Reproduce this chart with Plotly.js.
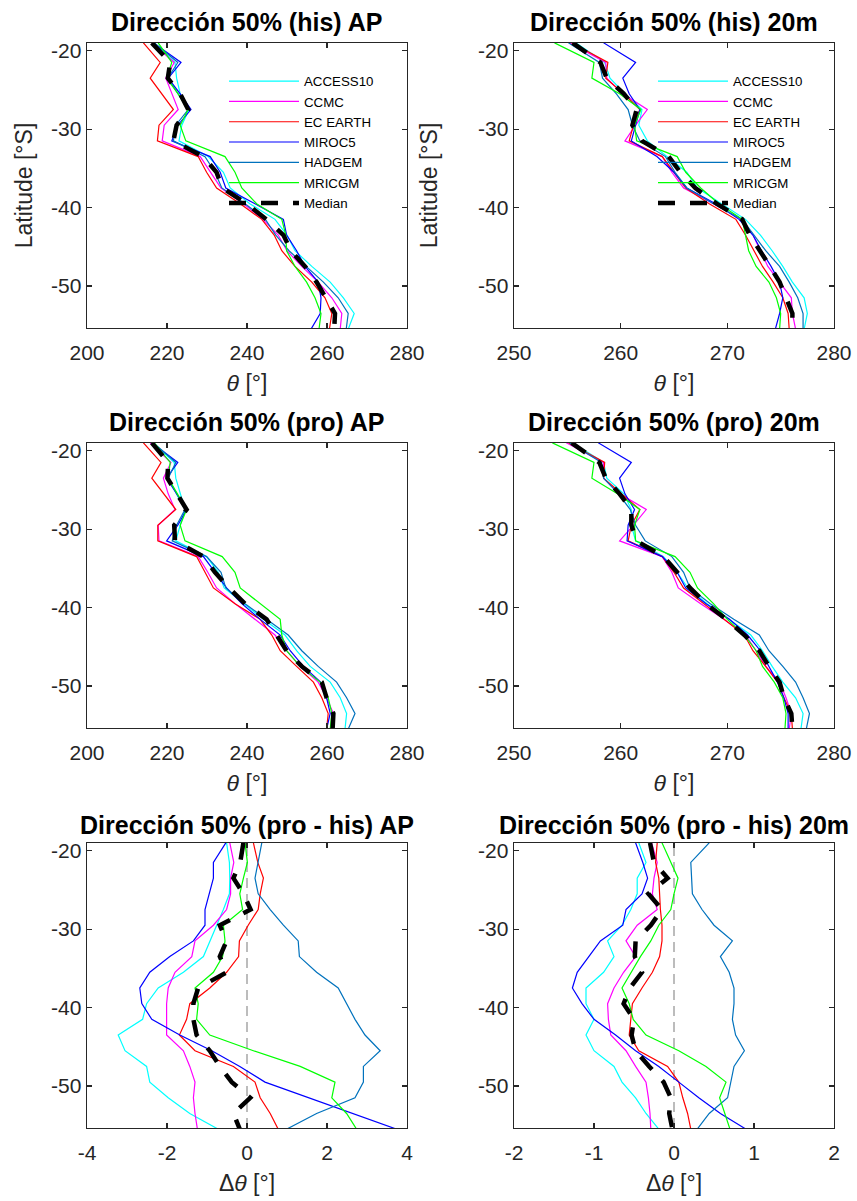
<!DOCTYPE html>
<html>
<head>
<meta charset="utf-8">
<script src="https://cdn.plot.ly/plotly-3.0.1.min.js"></script>
<style>
  html, body { margin: 0; padding: 0; background: #ffffff; }
  #chart { width: 857px; height: 1201px; }
</style>
</head>
<body>
<div id="chart"></div>
<script>
// Latitude of each profile point (degrees, south negative)
const lat = [-19, -21.5, -23.5, -25.5, -27.5, -29.5, -31.5, -33.5, -35.5, -37.5,
             -39.5, -41.5, -43.5, -45.5, -47.5, -49.5, -51.5, -53.5, -55.5];

// Series order inside every panel array below
const seriesNames = ['ACCESS10', 'CCMC', 'EC EARTH', 'MIROC5', 'HADGEM', 'MRICGM', 'Median'];

// 50% wave direction, historical period, AP (deg)
const dirHisAP = [
  [216.8, 222.0, 222.4, 223.3, 225.5, 223.7, 223.0, 230.3, 234.1, 235.8, 240.7, 247.0, 250.0, 252.0, 256.2, 260.8, 264.1, 266.8, 265.3],
  [216.2, 221.8, 219.7, 221.2, 222.8, 219.3, 218.8, 228.3, 230.8, 233.5, 239.1, 244.0, 247.8, 250.0, 253.7, 257.8, 261.2, 263.7, 263.3],
  [214.1, 218.3, 215.8, 218.7, 221.6, 218.0, 217.6, 227.8, 229.9, 232.4, 238.3, 243.7, 246.8, 248.7, 252.0, 256.2, 259.5, 261.2, 260.6],
  [216.6, 223.5, 220.3, 223.3, 226.0, 222.7, 221.2, 230.8, 233.3, 234.7, 242.0, 249.1, 249.9, 252.4, 254.5, 257.8, 258.5, 258.3, 256.0],
  [216.8, 222.7, 220.2, 222.8, 225.3, 222.2, 221.6, 229.5, 232.0, 233.7, 239.5, 244.6, 247.2, 250.5, 254.9, 259.1, 262.8, 265.3, 264.8],
  [217.8, 221.2, 219.9, 222.8, 225.3, 223.3, 224.7, 234.5, 237.0, 238.7, 242.4, 248.7, 249.7, 249.9, 252.0, 254.9, 257.0, 258.5, 258.0],
  [216.2, 220.8, 220.2, 223.3, 225.3, 222.4, 221.6, 229.1, 232.4, 233.8, 239.9, 244.8, 249.1, 251.0, 254.5, 257.4, 259.7, 262.0, 261.8]
];

// 50% wave direction, historical period, 20 m (deg)
const dirHis20m = [
  [255.8, 258.5, 259.0, 260.4, 262.0, 261.7, 262.5, 264.3, 266.2, 267.2, 269.4, 271.7, 273.1, 274.2, 275.2, 276.1, 277.2, 277.5, 277.2],
  [255.2, 258.6, 258.7, 260.2, 262.5, 261.4, 260.4, 263.9, 264.8, 265.9, 268.7, 271.3, 272.4, 273.1, 273.8, 274.9, 276.0, 276.1, 276.4],
  [255.4, 258.8, 258.6, 260.3, 261.8, 261.2, 260.8, 263.9, 265.0, 266.1, 268.3, 270.8, 271.7, 272.5, 273.3, 274.3, 275.2, 275.7, 275.8],
  [258.4, 261.4, 260.2, 260.8, 261.8, 261.4, 261.0, 263.4, 265.0, 266.2, 268.9, 271.1, 272.4, 273.2, 274.1, 274.9, 275.2, 274.9, 274.5],
  [255.1, 258.0, 258.3, 259.6, 260.7, 261.1, 261.8, 264.2, 265.1, 266.2, 268.7, 271.4, 272.5, 273.6, 274.9, 275.8, 276.6, 277.1, 277.1],
  [253.8, 257.5, 257.3, 259.9, 261.9, 261.3, 261.5, 265.3, 266.1, 267.5, 269.2, 271.4, 271.7, 272.0, 272.7, 273.9, 274.6, 275.0, 274.9],
  [255.5, 258.1, 258.7, 260.3, 261.5, 261.1, 262.0, 264.5, 265.6, 267.0, 269.0, 271.4, 272.1, 273.1, 274.0, 274.9, 275.5, 276.1, 276.1]
];

// 50% wave direction, projected period, AP (deg)
const dirProAP = [
  [216.6, 221.8, 222.2, 223.3, 224.5, 223.3, 222.2, 229.9, 232.8, 234.3, 239.1, 244.1, 249.5, 252.4, 255.8, 260.8, 263.3, 264.9, 264.5],
  [215.8, 221.0, 219.1, 220.3, 222.0, 217.8, 218.0, 227.8, 230.2, 232.4, 237.0, 242.0, 247.0, 249.9, 253.3, 257.8, 259.9, 261.6, 261.2],
  [214.1, 218.5, 216.2, 219.2, 222.2, 217.7, 217.7, 227.4, 229.5, 231.6, 237.0, 243.3, 246.2, 248.3, 252.4, 256.6, 258.7, 260.3, 259.9],
  [216.2, 222.7, 219.9, 222.4, 224.9, 222.7, 219.9, 229.1, 232.0, 234.9, 238.7, 243.3, 248.3, 250.8, 254.1, 258.4, 259.9, 260.8, 259.9],
  [216.6, 222.2, 220.3, 222.4, 224.5, 222.4, 221.3, 229.9, 233.5, 234.7, 239.5, 244.9, 250.3, 253.7, 257.8, 262.4, 264.9, 267.0, 265.3],
  [216.8, 220.8, 220.3, 222.7, 224.9, 223.3, 224.5, 233.8, 237.0, 238.3, 243.3, 248.3, 248.7, 249.9, 253.3, 258.3, 260.3, 261.2, 260.8],
  [216.2, 220.3, 220.1, 222.6, 224.9, 221.8, 222.0, 229.1, 232.0, 235.5, 239.5, 244.9, 247.4, 249.9, 253.7, 258.7, 259.9, 261.6, 261.4]
];

// 50% wave direction, projected period, 20 m (deg)
const dirPro20m = [
  [255.5, 258.4, 258.7, 260.3, 261.0, 261.0, 261.4, 264.0, 265.3, 266.3, 268.1, 270.1, 272.2, 273.3, 274.2, 275.2, 276.4, 277.1, 276.9],
  [254.9, 258.4, 258.4, 259.9, 262.4, 261.2, 259.9, 263.9, 264.8, 265.4, 267.5, 269.7, 271.7, 272.7, 273.6, 274.9, 275.5, 276.0, 275.8],
  [255.1, 258.5, 258.4, 260.1, 261.8, 261.0, 260.7, 263.9, 265.0, 265.9, 267.8, 269.8, 271.6, 272.4, 273.6, 274.7, 275.3, 276.0, 276.1],
  [257.9, 261.0, 259.9, 260.4, 261.3, 260.7, 260.6, 263.9, 265.3, 266.1, 268.0, 270.2, 271.9, 273.1, 273.9, 274.7, 275.3, 275.7, 275.7],
  [255.2, 258.2, 258.4, 259.8, 260.9, 261.4, 262.3, 264.8, 265.9, 266.5, 268.4, 270.6, 273.0, 273.9, 275.2, 276.4, 277.1, 277.7, 277.4],
  [253.6, 257.5, 257.3, 259.7, 261.8, 261.3, 261.4, 265.1, 266.5, 267.2, 268.7, 270.0, 271.6, 272.7, 273.3, 274.4, 275.2, 275.5, 275.4],
  [255.4, 258.0, 258.6, 259.9, 261.0, 261.0, 261.5, 264.0, 265.3, 266.5, 268.0, 269.9, 271.6, 273.0, 273.9, 274.9, 275.3, 276.0, 276.1]
];

// Change in 50% direction (pro - his), AP (deg)
const dDirAP = [
  [-0.51, -0.44, -0.43, -0.44, -0.59, -0.76, -0.93, -1.09, -1.59, -2.22, -2.51, -2.61, -3.22, -3.05, -2.51, -2.43, -1.97, -1.43, -0.72],
  [-0.43, -0.33, -0.41, -0.41, -0.51, -0.84, -1.30, -1.38, -1.80, -1.97, -2.01, -2.01, -2.01, -1.59, -1.43, -1.30, -1.34, -1.30, -1.24],
  [0.16, 0.27, 0.41, 0.33, 0.28, 0.03, -0.19, -0.21, -0.51, -0.93, -1.43, -1.51, -1.69, -1.30, -0.34, 0.20, 0.33, 0.58, 0.78],
  [-0.53, -0.84, -0.84, -0.94, -1.05, -1.05, -1.34, -1.93, -2.43, -2.68, -2.63, -2.38, -1.68, -0.88, -0.18, 0.45, 1.53, 2.66, 3.74],
  [0.37, 0.28, 0.20, 0.28, 0.58, 0.91, 1.28, 1.31, 1.74, 2.28, 2.49, 2.70, 2.95, 3.33, 2.91, 2.91, 2.70, 1.74, 0.99],
  [-0.05, 0.01, -0.09, -0.18, -0.11, -0.59, -0.55, -0.61, -0.84, -1.30, -1.22, -1.26, -0.93, 0.16, 1.33, 2.20, 2.12, 2.49, 2.74],
  [-0.09, -0.17, -0.34, -0.09, 0.09, -0.68, -0.51, -0.68, -0.51, -1.22, -1.34, -1.34, -1.26, -0.93, -0.68, -0.38, 0.08, -0.34, -0.18]
];

// Change in 50% direction (pro - his), 20 m (deg)
const dDir20m = [
  [-0.44, -0.35, -0.46, -0.46, -0.54, -0.65, -0.83, -0.75, -0.88, -1.10, -1.10, -1.00, -1.10, -1.00, -0.75, -0.65, -0.48, -0.35, -0.19],
  [-0.28, -0.21, -0.25, -0.27, -0.21, -0.46, -0.60, -0.48, -0.63, -0.75, -0.83, -0.82, -0.79, -0.60, -0.48, -0.35, -0.32, -0.30, -0.29],
  [-0.21, -0.23, -0.19, -0.18, -0.17, -0.15, -0.15, -0.18, -0.27, -0.40, -0.52, -0.54, -0.56, -0.44, -0.08, 0.06, 0.11, 0.17, 0.21],
  [-0.48, -0.39, -0.33, -0.40, -0.60, -0.64, -0.92, -1.06, -1.21, -1.27, -1.15, -1.00, -0.73, -0.48, -0.19, 0.06, 0.31, 0.58, 0.90],
  [0.44, 0.21, 0.22, 0.23, 0.35, 0.50, 0.73, 0.58, 0.69, 0.75, 0.75, 0.73, 0.77, 0.88, 0.75, 0.71, 0.67, 0.44, 0.29],
  [-0.15, -0.04, 0.05, 0.00, -0.04, -0.19, -0.29, -0.42, -0.54, -0.65, -0.56, -0.51, -0.35, 0.06, 0.40, 0.65, 0.57, 0.63, 0.70],
  [-0.30, -0.25, -0.08, -0.32, -0.15, -0.29, -0.48, -0.49, -0.40, -0.55, -0.63, -0.50, -0.53, -0.48, -0.31, -0.13, -0.04, -0.06, -0.02]
];

// Tick values and labels
const latTicks = [-20, -30, -40, -50];
const latTickText = ['-20', '-30', '-40', '-50'];
const thetaTicksAP = [200, 220, 240, 260, 280];
const thetaTicks20m = [250, 260, 270, 280];
const dThetaTicksAP = [-4, -2, 0, 2, 4];
const dThetaTickTextAP = ['-4', '-2', '0', '2', '4'];
const dThetaTicks20m = [-2, -1, 0, 1, 2];
const dThetaTickText20m = ['-2', '-1', '0', '1', '2'];

const panelTitles = [
  'Dirección 50% (his) AP', 'Dirección 50% (his) 20m',
  'Dirección 50% (pro) AP', 'Dirección 50% (pro) 20m',
  'Dirección 50% (pro - his) AP', 'Dirección 50% (pro - his) 20m'
];

// ---- styling / geometry ----
const FONT = 'Liberation Sans, Arial, Helvetica, sans-serif';
const INK = '#262626';
const W = 857, H = 1201;
const colors = ['#00FFFF', '#FF00FF', '#FF0000', '#0000FF', '#0072BD', '#00FF00', '#000000'];

const colDomains = [[87 / W, 407 / W], [514 / W, 834 / W]];
const rowTops = [43, 443, 843];
const rowBottoms = [328, 728, 1128];
const titleCenters = [22, 422, 825];
const latRange = [-55.35, -19.02];

const panels = [
  { data: dirHisAP,  xr: [200, 280], tv: thetaTicksAP,  tt: thetaTicksAP.map(String),  xt: '<i>θ</i> [°]',  yt: 'Latitude [°S]', ys: 12 },
  { data: dirHis20m, xr: [250, 280], tv: thetaTicks20m, tt: thetaTicks20m.map(String), xt: '<i>θ</i> [°]',  yt: 'Latitude [°S]', ys: 34 },
  { data: dirProAP,  xr: [200, 280], tv: thetaTicksAP,  tt: thetaTicksAP.map(String),  xt: '<i>θ</i> [°]',  yt: '' },
  { data: dirPro20m, xr: [250, 280], tv: thetaTicks20m, tt: thetaTicks20m.map(String), xt: '<i>θ</i> [°]',  yt: '' },
  { data: dDirAP,    xr: [-4, 4],    tv: dThetaTicksAP, tt: dThetaTickTextAP,          xt: 'Δ<i>θ</i> [°]', yt: '', zero: true },
  { data: dDir20m,   xr: [-2, 2],    tv: dThetaTicks20m, tt: dThetaTickText20m,        xt: 'Δ<i>θ</i> [°]', yt: '', zero: true }
];

const traces = [];
const annotations = [];
const shapes = [];
const layout = {
  width: W, height: H,
  margin: { l: 0, r: 0, t: 0, b: 0 },
  paper_bgcolor: '#ffffff',
  plot_bgcolor: '#ffffff',
  font: { family: FONT, color: INK },
  showlegend: true
};

panels.forEach((p, i) => {
  const n = i + 1;
  const xKey = n === 1 ? 'xaxis' : 'xaxis' + n;
  const yKey = n === 1 ? 'yaxis' : 'yaxis' + n;
  const xRef = n === 1 ? 'x' : 'x' + n;
  const yRef = n === 1 ? 'y' : 'y' + n;
  const col = i % 2, row = Math.floor(i / 2);
  const yDom = [1 - rowBottoms[row] / H, 1 - rowTops[row] / H];

  const axisCommon = {
    showline: true, linecolor: INK, linewidth: 1.4, mirror: 'ticks',
    ticks: 'inside', ticklen: 5, tickwidth: 1.2, tickcolor: INK,
    showgrid: false, zeroline: false,
    tickfont: { family: FONT, size: 21, color: INK }
  };

  layout[xKey] = Object.assign({}, axisCommon, {
    domain: colDomains[col], range: p.xr, anchor: yRef,
    tickmode: 'array', tickvals: p.tv, ticktext: p.tt,
    ticklabelstandoff: 5,
    title: { text: p.xt, font: { family: FONT, size: 23, color: INK }, standoff: 12 }
  });
  layout[yKey] = Object.assign({}, axisCommon, {
    domain: yDom, range: latRange, anchor: xRef,
    tickmode: 'array', tickvals: latTicks, ticktext: latTickText,
    title: { text: p.yt, font: { family: FONT, size: 23, color: INK }, standoff: p.ys || 12 }
  });

  p.data.forEach((vals, k) => {
    const isMedian = k === seriesNames.length - 1;
    traces.push({
      type: 'scatter', mode: 'lines',
      x: vals, y: lat,
      xaxis: xRef, yaxis: yRef,
      name: seriesNames[k],
      legend: i === 1 ? 'legend2' : 'legend',
      showlegend: i < 2,
      hoverinfo: 'skip',
      line: isMedian
        ? { color: colors[k], width: 4.5, dash: '17px,15px' }
        : { color: colors[k], width: 1.2 }
    });
  });

  if (p.zero) {
    shapes.push({
      type: 'line', layer: 'below',
      xref: xRef, yref: yRef + ' domain',
      x0: 0, x1: 0, y0: 0, y1: 1,
      line: { color: '#a6a6a6', width: 1.5, dash: '10px,6px' }
    });
  }

  annotations.push({
    text: '<b>' + panelTitles[i] + '</b>',
    xref: 'paper', yref: 'paper',
    x: (colDomains[col][0] + colDomains[col][1]) / 2,
    y: 1 - titleCenters[row] / H,
    xanchor: 'center', yanchor: 'middle', showarrow: false,
    font: { family: FONT, size: 25, color: '#000000' }
  });
});

const legendCommon = {
  xanchor: 'left', yanchor: 'top',
  bgcolor: 'rgba(0,0,0,0)', borderwidth: 0,
  font: { family: FONT, size: 13.3, color: '#000000' },
  itemwidth: 70, tracegroupgap: 0,
  itemclick: false, itemdoubleclick: false
};
layout.legend = Object.assign({}, legendCommon, { x: 224 / W, y: 1 - 66 / H });
layout.legend2 = Object.assign({}, legendCommon, { x: 653 / W, y: 1 - 66 / H });

layout.annotations = annotations;
layout.shapes = shapes;

Plotly.newPlot('chart', traces, layout, { displayModeBar: false, staticPlot: true });
</script>
</body>
</html>
